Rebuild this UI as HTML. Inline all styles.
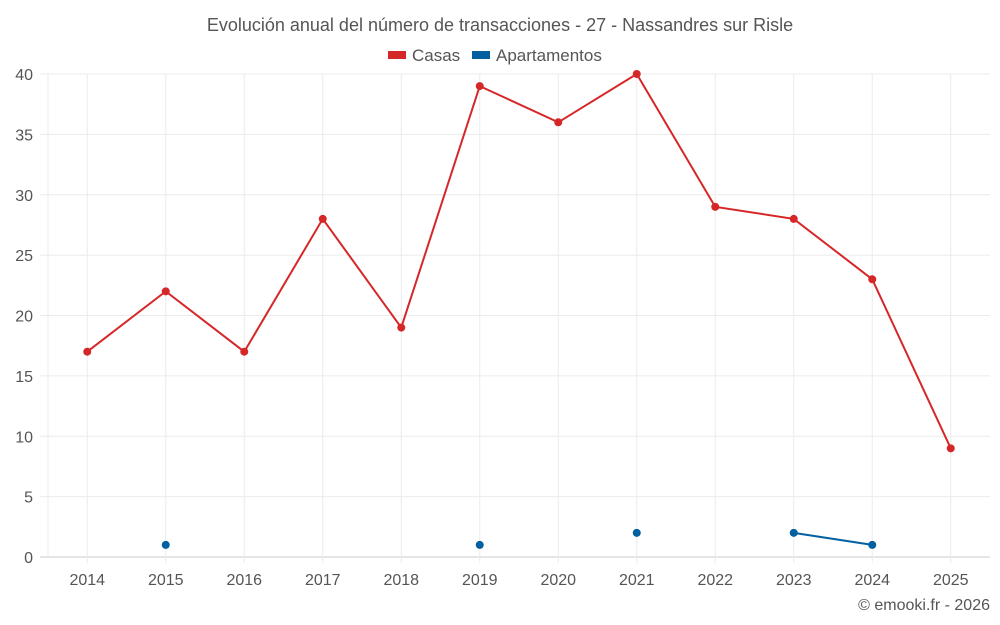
<!DOCTYPE html>
<html><head><meta charset="utf-8"><style>
html,body{margin:0;padding:0;background:#fff;}
svg{display:block;font-family:"Liberation Sans",sans-serif;}
</style></head><body>
<svg id="chart" width="1000" height="625">
<text x="500" y="31" text-anchor="middle" font-size="18" fill="#555">Evolución anual del número de transacciones - 27 - Nassandres sur Risle</text>
<g>
<g><rect x="388" y="51" width="18" height="8" fill="#d62728"/><text x="412" y="61" font-size="17" fill="#555">Casas</text></g>
<g><rect x="472" y="51" width="18" height="8" fill="#0060a0"/><text x="496" y="61" font-size="17" fill="#555">Apartamentos</text></g>
</g>
<g id="grid"></g><g id="axes"></g><g id="series"></g>
<text x="990" y="610" text-anchor="end" font-size="16" fill="#555">© emooki.fr - 2026</text>
</svg>
<script>
const categories=["2014","2015","2016","2017","2018","2019","2020","2021","2022","2023","2024","2025"];
const casas=[17,22,17,28,19,39,36,40,29,28,23,9];
const apartamentos=[null,1,null,null,null,1,null,2,null,2,1,null];
const yTicks=[0,5,10,15,20,25,30,35,40];
const L=48,R=990,T=74,B=557,yMax=40;
const step=(R-L)/categories.length;
const x=i=>L+(i+0.5)*step;
const y=v=>B-(v/yMax)*(B-T);
const NS="http://www.w3.org/2000/svg";
function mk(parent,tag,attrs){const e=document.createElementNS(NS,tag);for(const k in attrs)e.setAttribute(k,attrs[k]);document.getElementById(parent).appendChild(e);return e;}
yTicks.forEach(t=>{
 const l=mk('grid','line',{x1:40,x2:R,y1:y(t),y2:y(t),stroke:t===0?'#ccc':'#ebebeb','stroke-width':1});
 
 
 const tx=mk('axes','text',{x:33,y:y(t)+6,'text-anchor':'end','font-size':16,fill:'#555'});
 tx.textContent=t;
 
 
});
const lv=mk('grid','line',{x1:L,x2:L,y1:T,y2:B,stroke:'#ebebeb'});


categories.forEach((c,i)=>{
 const g=mk('grid','line',{x1:x(i),x2:x(i),y1:T,y2:B+6,stroke:'#ebebeb'});
 
 
 const tx=mk('axes','text',{x:x(i),y:585,'text-anchor':'middle','font-size':16,fill:'#555'});
 tx.textContent=c;
 
 
});
function drawSeries(vals,color,name){
 let segs=[],cur=[];
 vals.forEach((v,i)=>{if(v==null){if(cur.length)segs.push(cur);cur=[];}else cur.push([x(i),y(v)]);});
 if(cur.length)segs.push(cur);
 segs.forEach(s=>{if(s.length>1){const p=mk('series','polyline',{points:s.map(q=>q.join(',')).join(' '),fill:'none',stroke:color,'stroke-width':2});
 
 }});
 vals.forEach((v,i)=>{if(v==null)return;const c=mk('series','circle',{cx:x(i),cy:y(v),r:4,fill:color});
 
 });
}
drawSeries(casas,'#d62728','casas');
drawSeries(apartamentos,'#0060a0','apartamentos');
</script>
</body></html>
